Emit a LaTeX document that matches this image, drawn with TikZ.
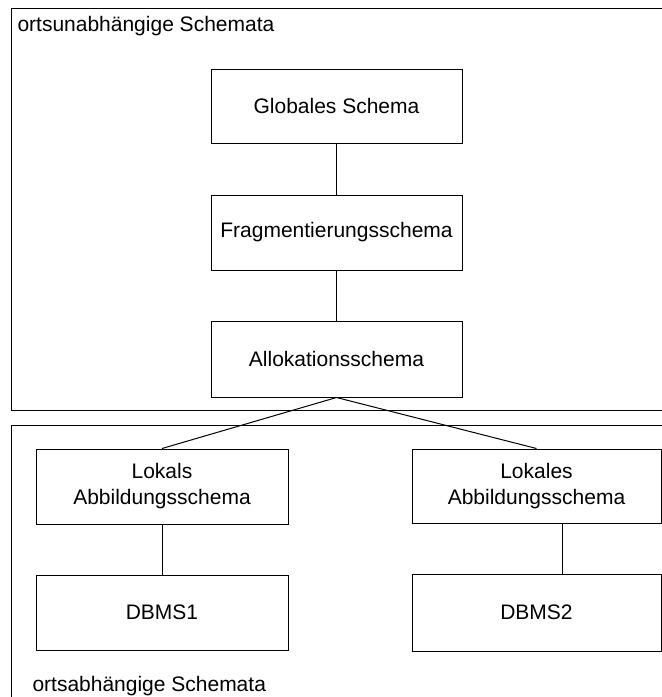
\documentclass[tikz,border=0pt]{standalone}
\usepackage{fontspec}
\setmainfont{Liberation Sans}
\begin{document}
\begin{tikzpicture}[x=1pt,y=-1pt,line width=1pt,
  every node/.style={font=\fontsize{21}{26}\selectfont},
  schemabox/.style={draw,rectangle,align=center,inner sep=0pt,minimum width=251pt,minimum height=75pt},
  grouplabel/.style={inner sep=0pt,anchor=base west}]
  \useasboundingbox (0,0) rectangle (662,697);
  \clip (0,0) rectangle (662,697);

  % location-independent and location-dependent layers (cut off at the page edge)
  \draw (11,8) rectangle (720,410);
  \draw (11,425) rectangle (720,740);
  \node[grouplabel] (topl) at (17,31) {ortsunabhängige Schemata};
  \node[grouplabel] (botl) at (32,691) {ortsabhängige Schemata};

  % global schema chain
  \node[schemabox,minimum height=74pt] (glob) at (336.5,106) {Globales Schema};
  \node[schemabox] (frag) at (336.5,232.5) {Fragmentierungsschema};
  \node[schemabox,minimum height=76pt] (allo) at (336.5,359) {Allokationsschema};

  % local mapping schemata and databases
  \node[schemabox,minimum width=252pt] (lok1) at (162,486.5) {Lokals\\Abbildungsschema};
  \node[schemabox,minimum width=249pt,minimum height=74pt] (lok2) at (536.5,486) {Lokales\\Abbildungsschema};
  \node[schemabox,minimum width=252pt] (db1) at (162,612.5) {DBMS1};
  \node[schemabox,minimum width=249pt,minimum height=77pt] (db2) at (536.5,612.5) {DBMS2};

  % connectors
  \draw (glob.south) -- (frag.north);
  \draw (frag.south) -- (allo.north);
  \draw (allo.south) -- (lok1.north);
  \draw (allo.south) -- (lok2.north);
  \draw (lok1.south) -- (db1.north);
  \draw ([xshift=25.5pt]lok2.south) -- ([xshift=25.5pt]db2.north);
\end{tikzpicture}
\end{document}
